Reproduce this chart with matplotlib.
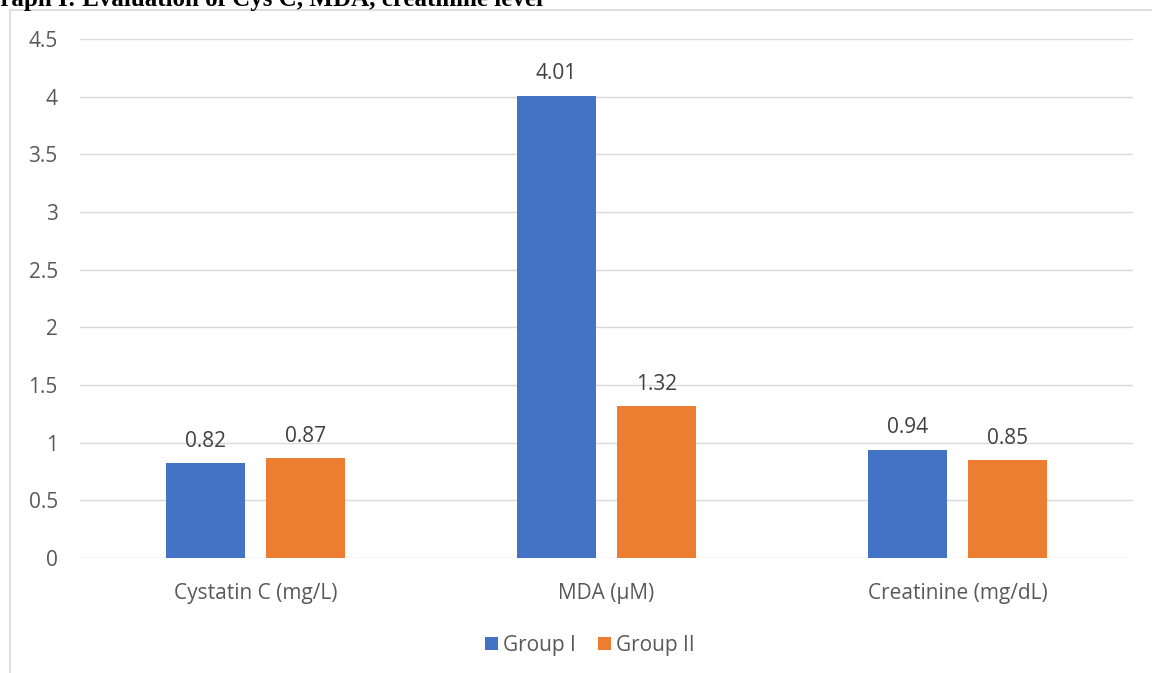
import matplotlib.pyplot as plt
import matplotlib.patches as mpatches
import numpy as np

categories = ["Cystatin C (mg/L)", "MDA (\u00b5M)", "Creatinine (mg/dL)"]
group_1 = [0.82, 4.01, 0.94]
group_2 = [0.87, 1.32, 0.85]
series_names = ["Group I", "Group II"]
yticks = [0, 0.5, 1, 1.5, 2, 2.5, 3, 3.5, 4, 4.5]

BLUE = "#4472C4"
ORANGE = "#ED7D31"
GRID = "#D9D9D9"
TXT = "#595959"
FONT = "Open Sans"
FS = 15

W, H = 1152, 673
fig = plt.figure(figsize=(W / 100, H / 100), dpi=100)

# chart frame (left/top edges visible, rest clipped)
frame = mpatches.Rectangle((9.5 / W, -0.1), 1.2, 1 - 10.5 / H + 0.1,
                           transform=fig.transFigure, fill=False,
                           edgecolor=GRID, linewidth=1.2)
fig.patches.append(frame)

# cropped title, as in the source image
fig.text(-19 / W, 1 - 6 / H, "Graph I: Evaluation of Cys C, MDA, creatinine level",
         family="Liberation Serif", fontweight="bold", fontsize=18,
         ha="left", va="baseline", color="black")

ax = fig.add_axes([80 / W, 115 / H, (1133 - 80) / W, (558 - 39) / H])
x = np.arange(len(categories))
bw = 0.225
off = 0.1425
b1 = ax.bar(x - off, group_1, bw, color=BLUE, label=series_names[0], zorder=3)
b2 = ax.bar(x + off, group_2, bw, color=ORANGE, label=series_names[1], zorder=3)

for bars, vals in ((b1, group_1), (b2, group_2)):
    for b, v in zip(bars, vals):
        ax.annotate(f"{v:.2f}", (b.get_x() + b.get_width() / 2, v),
                    xytext=(0, 8), textcoords="offset points",
                    ha="center", va="bottom", fontsize=FS, color="#404040",
                    family=FONT)

ax.set_xlim(-0.5, 2.5)
ax.set_ylim(0, 4.5)
ax.set_yticks(yticks)
ax.set_yticklabels([f"{t:g}" for t in yticks], family=FONT)
ax.set_xticks(x)
ax.set_xticklabels(categories, family=FONT)
ax.tick_params(axis="both", length=0, labelsize=FS, labelcolor=TXT)
ax.tick_params(axis="y", pad=16)
ax.tick_params(axis="x", pad=18)
ax.grid(axis="y", color=GRID, linewidth=1, zorder=0)
for s in ax.spines.values():
    s.set_visible(False)

ax.legend(loc="upper center", bbox_to_anchor=(0.484, -0.112), ncol=2,
          frameon=False, prop={"family": FONT, "size": FS}, labelcolor=TXT,
          handlelength=0.63, handleheight=0.63, handletextpad=0.25,
          columnspacing=1.05)

fig.savefig("out.png", dpi=100)
